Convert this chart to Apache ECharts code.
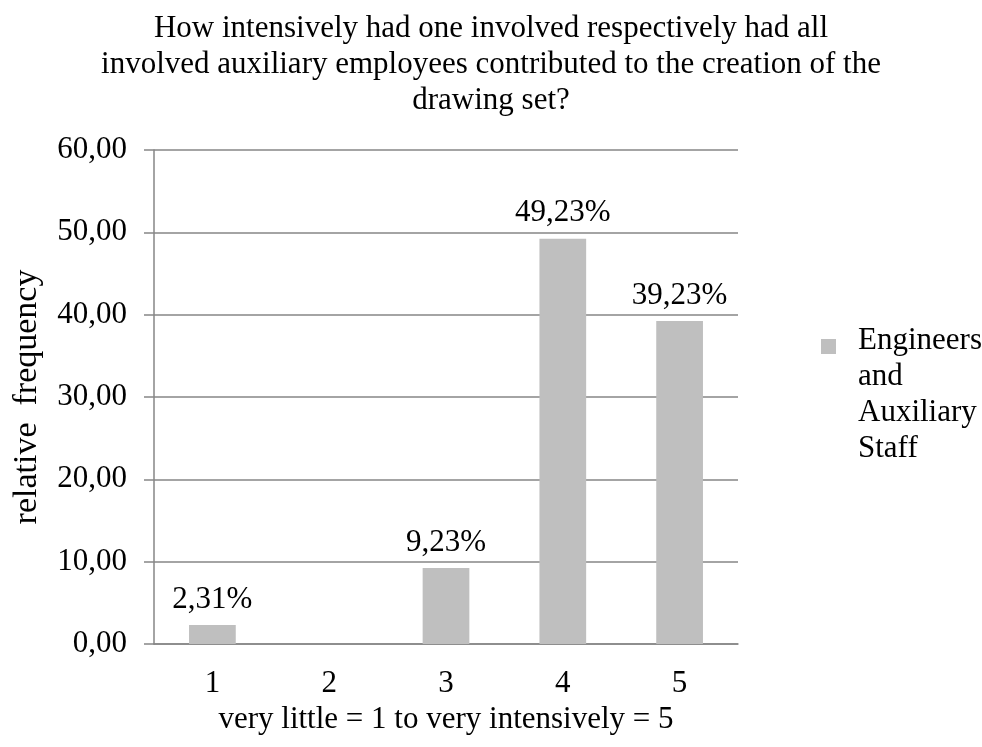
<!DOCTYPE html>
<html>
<head>
<meta charset="utf-8">
<script src="https://cdn.jsdelivr.net/npm/echarts@6/dist/echarts.min.js"></script>
<style>
  html, body { margin: 0; padding: 0; background: #ffffff; }
  #chart { width: 982px; height: 747px; }
</style>
</head>
<body>
<div id="chart"></div>
<script>
// Survey answers: intensity of contribution, 1 (very little) to 5 (very intensively)
const categories = ['1', '2', '3', '4', '5'];
const seriesName = 'Engineers and Auxiliary Staff';
const relativeFrequency = [2.31, 0, 9.23, 49.23, 39.23];
const yTicks = { min: 0, max: 60, interval: 10 };

const titleText = 'How intensively had one involved respectively had all\n' +
  'involved auxiliary employees contributed to the creation of the\n' +
  'drawing set?';
const xAxisTitle = 'very little = 1 to very intensively = 5';
const yAxisTitle = 'relative  frequency';
const legendLines = ['Engineers', 'and', 'Auxiliary', 'Staff'];

const FONT = '"Liberation Serif", "Times New Roman", serif';
const GRID_GRAY = '#868686';
const BAR_GRAY = '#BFBFBF';

// Legend key: a small square at the top of a taller box, so the wrapped
// legend text (centred on the key box) starts level with the square.
const LEGEND_KEY = 'path://M0,0H15V15H0Z M32,112L32,112';

const fmtComma = v => Number(v).toFixed(2).replace('.', ',');

const chart = echarts.init(document.getElementById('chart'), null, { renderer: 'canvas' });

chart.setOption({
  backgroundColor: '#ffffff',
  animation: false,
  textStyle: { fontFamily: FONT, color: '#000000' },
  title: {
    text: titleText,
    left: 'center',
    top: 6,
    textStyle: {
      fontFamily: FONT,
      fontSize: 31,
      fontWeight: 'normal',
      color: '#000000',
      lineHeight: 36
    }
  },
  legend: {
    data: [{ name: seriesName, icon: LEGEND_KEY }],
    left: 816,
    top: 318,
    orient: 'vertical',
    itemWidth: 32,
    itemHeight: 112,
    selectedMode: false,
    formatter: () => legendLines.join('\n'),
    textStyle: {
      fontFamily: FONT,
      fontSize: 31,
      lineHeight: 36,
      color: '#000000'
    }
  },
  grid: {
    left: 154,
    right: 244,
    top: 150,
    bottom: 103,
    containLabel: false
  },
  xAxis: {
    type: 'category',
    data: categories,
    name: xAxisTitle,
    nameLocation: 'middle',
    nameGap: 53,
    nameTextStyle: { fontFamily: FONT, fontSize: 31, color: '#000000', lineHeight: 31 },
    axisLine: { show: true, lineStyle: { color: GRID_GRAY, width: 1.5 } },
    axisTick: { show: false },
    axisLabel: {
      margin: 24,
      fontFamily: FONT,
      fontSize: 31,
      lineHeight: 31,
      color: '#000000'
    },
    splitLine: { show: false }
  },
  yAxis: {
    type: 'value',
    min: yTicks.min,
    max: yTicks.max,
    interval: yTicks.interval,
    name: yAxisTitle,
    nameLocation: 'middle',
    nameRotate: 90,
    nameGap: 110,
    nameTextStyle: { fontFamily: FONT, fontSize: 34, color: '#000000', lineHeight: 34 },
    axisLine: { show: true, lineStyle: { color: GRID_GRAY, width: 1.5 } },
    axisTick: { show: true, inside: false, length: 10, lineStyle: { color: GRID_GRAY, width: 1.5 } },
    axisLabel: {
      margin: 27,
      fontFamily: FONT,
      fontSize: 31,
      color: '#000000',
      formatter: v => fmtComma(v)
    },
    splitLine: { show: true, lineStyle: { color: GRID_GRAY, width: 1.5 } }
  },
  series: [{
    name: seriesName,
    type: 'bar',
    data: relativeFrequency,
    barWidth: '40%',
    itemStyle: { color: BAR_GRAY, borderWidth: 0 },
    label: {
      show: true,
      position: 'top',
      distance: 10,
      fontFamily: FONT,
      fontSize: 31,
      color: '#000000',
      formatter: p => (p.value > 0 ? fmtComma(p.value) + '%' : '')
    }
  }]
});
</script>
</body>
</html>
